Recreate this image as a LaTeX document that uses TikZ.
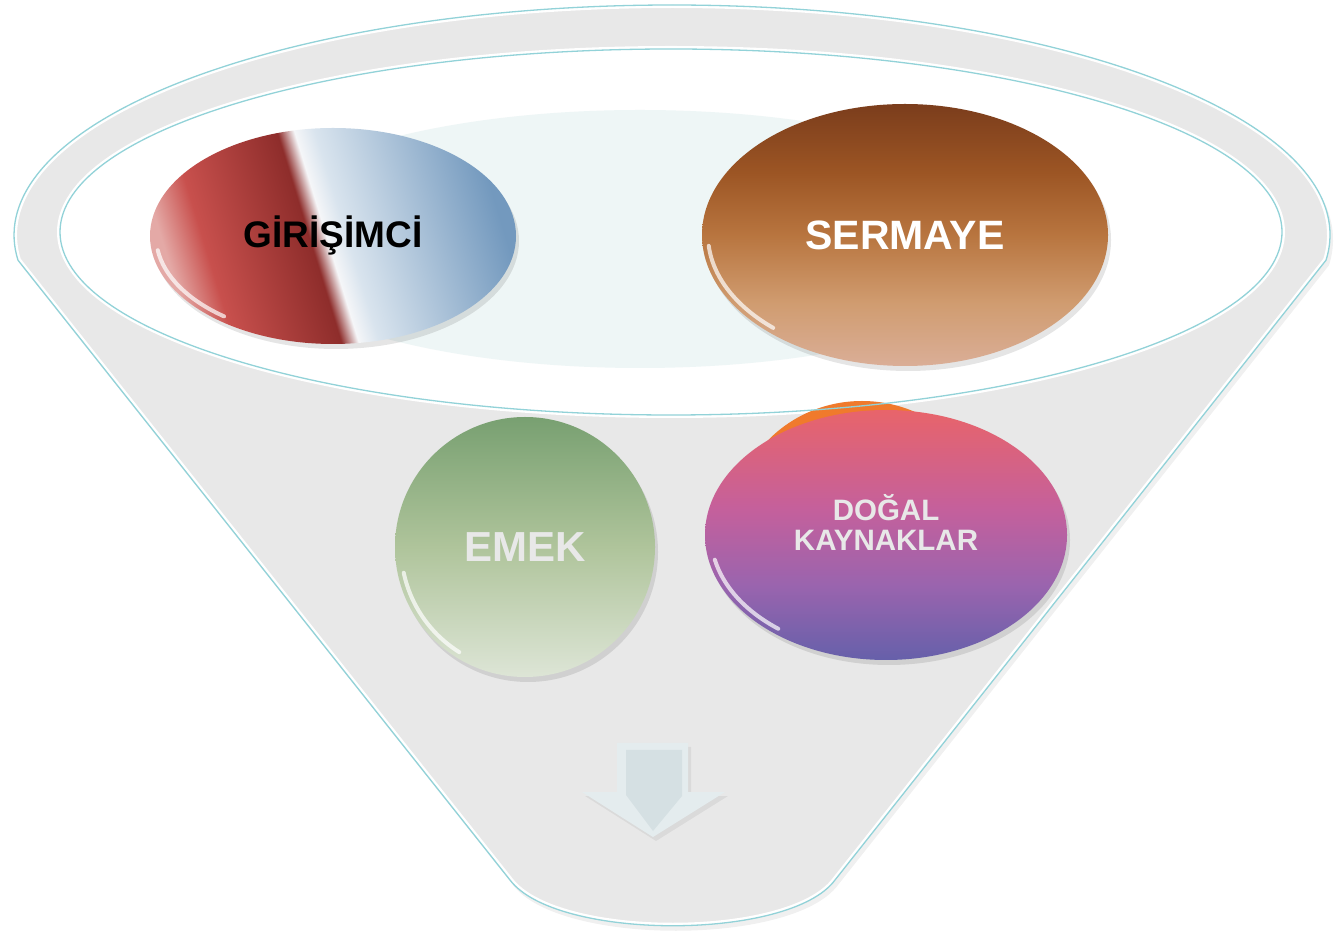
\documentclass[tikz,border=0pt]{standalone}
\usepackage{fontspec}
\setmainfont{Liberation Sans}
\usetikzlibrary{shapes.geometric}
\definecolor{funnelgray}{HTML}{E8E8E8}
\definecolor{rimteal}{HTML}{92D2D8}
\definecolor{innercyan}{HTML}{EEF6F6}
\definecolor{gA}{HTML}{E4A9A6}
\definecolor{gB}{HTML}{C8504D}
\definecolor{gC}{HTML}{8E2D2B}
\definecolor{gW}{HTML}{F5F6F8}
\definecolor{gL}{HTML}{D9E4EE}
\definecolor{gD}{HTML}{7399BE}
\definecolor{sA}{HTML}{DAAE97}
\definecolor{sB}{HTML}{D09C70}
\definecolor{sC}{HTML}{B8753F}
\definecolor{sD}{HTML}{9C5524}
\definecolor{sE}{HTML}{7B3D1C}
\definecolor{dA}{HTML}{E8646A}
\definecolor{dB}{HTML}{C4609C}
\definecolor{dC}{HTML}{9A64AE}
\definecolor{dD}{HTML}{6660AA}
\definecolor{eA}{HTML}{DDE5D6}
\definecolor{eB}{HTML}{AFC49B}
\definecolor{eC}{HTML}{78A071}
\definecolor{textgray}{HTML}{E8E8E8}
\definecolor{arrowlight}{HTML}{E4ECEE}
\definecolor{arrowdark}{HTML}{D5E0E3}
\definecolor{orangeblob}{HTML}{F07A2C}
\pgfdeclarehorizontalshading{girishade}{100bp}{color(0bp)=(gA); color(25bp)=(gA); color(31bp)=(gB); color(46.5bp)=(gC); color(49bp)=(gW); color(52bp)=(gL); color(75bp)=(gD); color(100bp)=(gD)}
\pgfdeclareverticalshading{sermshade}{100bp}{color(0bp)=(sA); color(25bp)=(sA); color(37bp)=(sB); color(50bp)=(sC); color(62bp)=(sD); color(75bp)=(sE); color(100bp)=(sE)}
\pgfdeclareverticalshading{dogshade}{100bp}{color(0bp)=(dD); color(25bp)=(dD); color(40bp)=(dC); color(55bp)=(dB); color(75bp)=(dA); color(100bp)=(dA)}
\pgfdeclareverticalshading{emekshade}{100bp}{color(0bp)=(eA); color(25bp)=(eA); color(50bp)=(eB); color(75bp)=(eC); color(100bp)=(eC)}
\tikzset{
  bubble/.style={ellipse, inner sep=0pt, shade},
  hl/.style={white, line width=4, line cap=round, opacity=0.7},
  shadowfill/.style={fill=black, opacity=0.10},
}
\begin{document}
\begin{tikzpicture}[x=1pt,y=1pt]
\useasboundingbox (0,0) rectangle (1343,937);
\fill[white] (0,0) rectangle (1343,937);
% funnel shadow
\fill[black, opacity=0.06] (675,697) ++(-6.3:658 and 230) arc[start angle=-6.3, end angle=186.3, x radius=658, y radius=230] -- (513,52) .. controls (559,-9) and (793,-9) .. (838,52) -- cycle;
% funnel body
\def\funnelpath{(672,702) ++(-6.3:658 and 230) arc[start angle=-6.3, end angle=186.3, x radius=658, y radius=230] -- (510,57) .. controls (556,-4) and (790,-4) .. (835,57) -- cycle}
\fill[funnelgray] \funnelpath;
\begin{scope}
  \clip \funnelpath;
  \draw[white, line width=6] \funnelpath;
\end{scope}
\draw[rimteal, line width=1.3] \funnelpath;
% inner opening
\fill[white] (671,705) ellipse [x radius=611, y radius=183];
\draw[white, line width=6] (671,705) ellipse [x radius=611, y radius=183];
\fill[innercyan] (640,698) ellipse [x radius=400, y radius=129];
% shadows of bubbles
\fill[shadowfill] (336,696) ellipse [x radius=183, y radius=108];
\fill[shadowfill] (908,697) ellipse [x radius=203, y radius=131];
\fill[shadowfill] (528,385) circle [radius=130];
\fill[shadowfill] (889,397) ellipse [x radius=181, y radius=125];
% bubbles
\node[bubble, shading=girishade, shading angle=17, minimum width=366, minimum height=216, font=\bfseries\fontsize{37}{44}\selectfont] (giri) at (333,701) {GİRİŞİMCİ};
\node[bubble, shading=sermshade, minimum width=406, minimum height=262, text=white, font=\bfseries\fontsize{41}{48}\selectfont] (serm) at (905,702) {SERMAYE};
\fill[orangeblob] (862,409) ellipse [x radius=130, y radius=127];
\node[bubble, shading=dogshade, minimum width=362, minimum height=250, text=textgray, align=center, font=\bfseries\fontsize{29.5}{30}\selectfont] (dogal) at (886,402) {DOĞAL\\KAYNAKLAR\\[-4pt]};
\node[bubble, circle, shading=emekshade, minimum size=260, text=textgray, font=\bfseries\fontsize{42}{48}\selectfont] (emek) at (525,390) {EMEK};
% glossy highlights
\draw[hl] (giri.center) ++(188:177 and 102) arc[start angle=188, end angle=232, x radius=177, y radius=102];
\draw[hl] (serm.center) ++(185:197 and 125) arc[start angle=185, end angle=228, x radius=197, y radius=125];
\draw[hl] (emek.center) ++(192:124 and 124) arc[start angle=192, end angle=238, x radius=124, y radius=124];
\draw[hl] (dogal.center) ++(192:175 and 119) arc[start angle=192, end angle=232, x radius=175, y radius=119];
% inner rim line on top
\draw[rimteal, line width=1.3] (671,705) ellipse [x radius=611, y radius=183];
% arrow
\fill[black, opacity=0.06] (620,190) -- (691,190) -- (691,141) -- (728,141) -- (656,96) -- (585,141) -- (620,141) -- cycle;
\fill[arrowlight] (617,194) -- (688,194) -- (688,145) -- (725,145) -- (653,100) -- (582,145) -- (617,145) -- cycle;
\fill[arrowdark] (626,187) -- (682,187) -- (682,141) -- (653,106) -- (626,142) -- cycle;
\end{tikzpicture}
\end{document}
